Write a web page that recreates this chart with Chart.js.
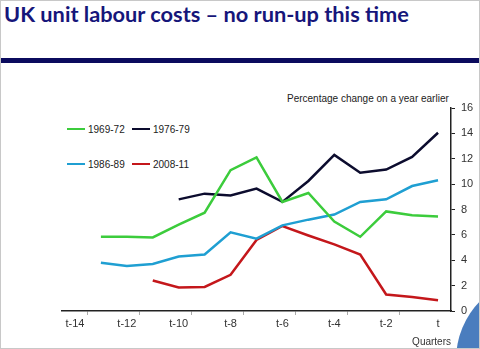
<!DOCTYPE html>
<html>
<head>
<meta charset="utf-8">
<script src="https://cdn.jsdelivr.net/npm/chart.js@4"></script>
<style>
  html, body { margin: 0; padding: 0; background: #fff; }
  #page {
    position: relative; width: 478px; height: 347px; overflow: hidden;
    border: 1px solid #c8c8c8; background: #fff;
    font-family: "Liberation Sans", Arial, sans-serif;
  }
  #title {
    position: absolute; left: 3px; top: 0px; white-space: nowrap;
    font-family: Lato, "Open Sans", sans-serif; font-weight: 700; font-size: 21px;
    color: #16167a; transform-origin: 0 0;
  }
  #bar { position: absolute; left: 0; top: 57px; width: 100%; height: 5px; background: #0b0b5e; }
  #blob { position: absolute; left: 455px; top: 275px; width: 168px; height: 168px; border-radius: 50%; background: #4a7dbe; }
  #ytitle { position: absolute; left: 286px; top: 92px; font-size: 10px; color: #222; white-space: nowrap; }
  .leg { position: absolute; font-size: 10px; color: #222; white-space: nowrap; line-height: 12px; }
  .leg i { display: inline-block; width: 18px; height: 2px; vertical-align: middle; margin-right: 3px; position: relative; top: -1px; }
  #wrap { position: absolute; left: 0; top: 63px; width: 478px; height: 284px; }
  canvas { position: absolute; left: 0; top: 0; }
</style>
</head>
<body>
<div id="page">
  <div id="title">UK unit labour costs – no run-up this time</div>
  <div id="bar"></div>
  <div id="ytitle">Percentage change on a year earlier</div>
  <div id="legend"></div>
  <div id="wrap"><canvas id="chart" width="478" height="284"></canvas></div>
  <div id="blob"></div>
</div>
<script>
  const quarters = ['t-14','t-13','t-12','t-11','t-10','t-9','t-8','t-7','t-6','t-5','t-4','t-3','t-2','t-1','t'];
  const s1969 = [null, 5.85, 5.85, 5.8, 6.8, 7.75, 11.1, 12.1, 8.6, 9.3, 7.05, 5.85, 7.85, 7.55, 7.45];
  const s1976 = [null, null, null, null, 8.8, 9.25, 9.1, 9.65, 8.6, 10.25, 12.3, 10.9, 11.15, 12.15, 14.05];
  const s1986 = [null, 3.8, 3.55, 3.7, 4.3, 4.45, 6.2, 5.7, 6.75, 7.2, 7.6, 8.6, 8.8, 9.85, 10.3];
  const s2008 = [null, null, null, 2.4, 1.85, 1.9, 2.85, 5.6, 6.7, 5.95, 5.25, 4.45, 1.3, 1.1, 0.85];
  const yTicks = [0, 2, 4, 6, 8, 10, 12, 14, 16];

  const series = [
    {label: '1969-72', data: s1969, color: '#3ccc3c', x: 66,  y: 123},
    {label: '1976-79', data: s1976, color: '#0c0c2e', x: 131, y: 123},
    {label: '1986-89', data: s1986, color: '#1f9fd2', x: 66,  y: 158},
    {label: '2008-11', data: s2008, color: '#c4171b', x: 131, y: 158},
  ];

  // legend: 2x2 grid like the original slide
  document.getElementById('legend').innerHTML = series.map(s =>
    `<div class="leg" style="left:${s.x}px;top:${s.y}px"><i style="background:${s.color}"></i>${s.label}</div>`
  ).join('');

  // squeeze title to the slide's width
  const t = document.getElementById('title');
  t.style.transform = 'scaleX(' + (405 / t.offsetWidth).toFixed(3) + ')';

  const font = {family: '"Liberation Sans", Arial, sans-serif', size: 11};

  new Chart(document.getElementById('chart'), {
    type: 'line',
    data: {
      labels: quarters,
      datasets: series.map(s => ({
        label: s.label, data: s.data, borderColor: s.color, backgroundColor: s.color,
        borderWidth: 2.5, pointRadius: 0, tension: 0, spanGaps: false
      }))
    },
    options: {
      responsive: false, animation: false,
      layout: {padding: {left: 61, top: 44, right: 0, bottom: 0}},
      plugins: {legend: {display: false}, tooltip: {enabled: false}},
      scales: {
        x: {
          offset: true,
          grid: {drawOnChartArea: false, offset: true, tickLength: 4,
                 color: c => c.index % 2 === 1 ? '#aaa' : 'rgba(0,0,0,0)'},
          border: {color: '#222', width: 1.5},
          ticks: {autoSkip: false, maxRotation: 0, color: '#333', font, padding: 2,
                  callback: (v, i) => i % 2 === 0 ? quarters[i] : ''},
          title: {display: true, text: 'Quarters', align: 'end', color: '#333',
                  font: {family: font.family, size: 10}, padding: {top: 0, bottom: 0}},
          afterFit: sc => { sc.height = 37; }
        },
        y: {
          position: 'right', min: 0, max: 16,
          afterBuildTicks: sc => { sc.ticks = yTicks.map(v => ({value: v})); },
          grid: {drawOnChartArea: false, tickLength: 4, color: '#222'},
          border: {color: '#222', width: 1.5},
          ticks: {color: '#333', font, padding: 6},
          afterFit: sc => { sc.width = 28; }
        }
      }
    }
  });
</script>
</body>
</html>
